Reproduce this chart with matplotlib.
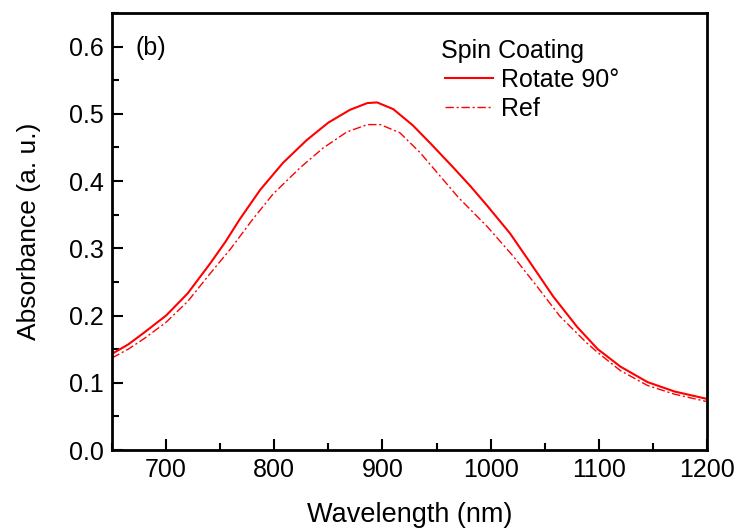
import matplotlib
matplotlib.use("Agg")
import matplotlib.pyplot as plt
from matplotlib.ticker import MultipleLocator

plt.rcParams["font.family"] = ["Liberation Sans", "DejaVu Sans"]

# absorbance spectra
wavelength_rot = [650, 665, 680, 700, 720, 741, 755, 768, 787, 808, 830, 850,
                  870, 886, 895, 910, 928, 945, 965, 981, 997, 1018, 1036,
                  1058, 1080, 1099, 1120, 1145, 1170, 1200]
absorb_rot = [0.143, 0.157, 0.175, 0.200, 0.233, 0.278, 0.310, 0.343, 0.387,
              0.427, 0.461, 0.487, 0.506, 0.516, 0.517, 0.507, 0.483, 0.455,
              0.421, 0.393, 0.363, 0.322, 0.280, 0.228, 0.183, 0.150, 0.124,
              0.101, 0.087, 0.076]

wavelength_ref = [650, 665, 680, 700, 720, 741, 760, 780, 799, 824, 845, 867,
                  886, 898, 916, 935, 953, 970, 997, 1021, 1043, 1064, 1089,
                  1099, 1120, 1145, 1170, 1200]
absorb_ref = [0.137, 0.150, 0.166, 0.190, 0.221, 0.263, 0.300, 0.343, 0.381,
              0.420, 0.449, 0.473, 0.484, 0.484, 0.472, 0.442, 0.408, 0.376,
              0.332, 0.288, 0.243, 0.199, 0.159, 0.145, 0.118, 0.096, 0.083,
              0.072]

fig = plt.figure(figsize=(7.38, 5.29), dpi=100)
ax = fig.add_axes([112 / 738, 79 / 529, 595 / 738, 437 / 529])

ax.plot(wavelength_rot, absorb_rot, color="#ff0000", lw=1.5, label="Rotate 90°")
ax.plot(wavelength_ref, absorb_ref, color="#ff0000", lw=1.0,
        dashes=(6, 2, 1.5, 2), label="Ref")

ax.set_xlim(650, 1200)
ax.set_ylim(0, 0.65)
ax.xaxis.set_major_locator(MultipleLocator(100))
ax.xaxis.set_minor_locator(MultipleLocator(50))
ax.yaxis.set_major_locator(MultipleLocator(0.1))
ax.yaxis.set_minor_locator(MultipleLocator(0.05))
ax.set_xticks([700, 800, 900, 1000, 1100, 1200])
ax.yaxis.set_major_formatter(plt.FuncFormatter(lambda v, p: f"{v:.1f}"))

for s in ax.spines.values():
    s.set_linewidth(2)
ax.tick_params(which="major", direction="in", length=8, width=1.5,
               labelsize=18, pad=6)
ax.tick_params(which="minor", direction="in", length=5, width=1.5)

ax.set_xlabel("Wavelength (nm)", fontsize=19.5, labelpad=14)
ax.set_ylabel("Absorbance (a. u.)", fontsize=19, labelpad=20)

ax.text(0.04, 0.947, "(b)", transform=ax.transAxes, fontsize=18,
        va="top", ha="left")

# legend title drawn as plain text so it sits left-aligned above the entries
ax.text(0.553, 0.897, "Spin Coating", transform=ax.transAxes, fontsize=18,
        va="baseline", ha="left")
ax.legend(loc="upper left", bbox_to_anchor=(0.56, 0.875), frameon=False,
          fontsize=18, handlelength=1.9, handletextpad=0.35,
          labelspacing=0.2, borderpad=0, borderaxespad=0)

fig.savefig("out.png", dpi=100)
